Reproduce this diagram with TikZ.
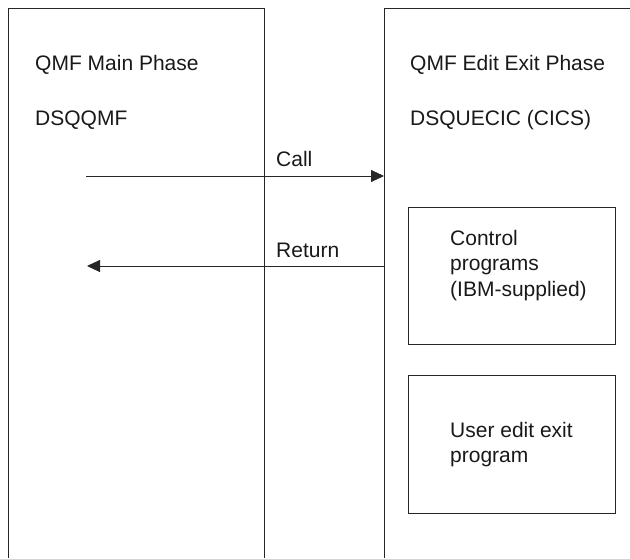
\documentclass[tikz,border=0pt]{standalone}
\usepackage{fontspec}
\setmainfont{Liberation Sans}
\usetikzlibrary{arrows.meta}
\begin{document}
\begin{tikzpicture}[x=1pt,y=-1pt,
  frame/.style={draw=black!85, line width=0.9pt},
  lbl/.style={font=\fontsize{21}{25.5}\selectfont, inner sep=0pt, anchor=base west, align=left, text=black!90},
  flow/.style={draw=black!85, line width=0.9pt, -{Triangle[length=13pt,width=12pt]}},
  progbox/.style={frame, minimum width=207pt, inner sep=0pt, anchor=north west}]
\useasboundingbox (0,0) rectangle (630,558);
% phase panels (open at the bottom)
\coordinate (mainBL) at (8,558);
\coordinate (mainTL) at (8,8);
\coordinate (mainTR) at (264,8);
\coordinate (mainBR) at (264,558);
\coordinate (editBL) at (384,558);
\coordinate (editTL) at (384,8);
\coordinate (editTR) at (630,8);
\draw[frame] (mainBL) -- (mainTL) -- (mainTR) -- (mainBR);
\draw[frame] (editBL) -- (editTL) -- (editTR);
% titles
\node[lbl] (mainT) at (35,70.5) {QMF Main Phase};
\node[lbl] (mainN) at (35,125) {DSQQMF};
\node[lbl] (editT) at (410,70.5) {QMF Edit Exit Phase};
\node[lbl] (editN) at (410,125) {DSQUECIC (CICS)};
% program boxes
\node[progbox, minimum height=137pt] (ctrl) at (408,207) {};
\node[progbox, minimum height=138pt] (user) at (408,375) {};
\node[lbl] (ctrlT) at (450,296) {Control\\programs\\(IBM-supplied)};
\node[lbl] (userT) at (450,462.5) {User edit exit\\program};
% call / return
\coordinate (callL) at (86,176);
\coordinate (callR) at (editTL |- callL);
\coordinate (retR) at (384,266);
\coordinate (retL) at (87,266);
\draw[flow] (callL) -- (callR);
\draw[flow] (retR) -- (retL);
\node[lbl] (callT) at (276,166.5) {Call};
\node[lbl] (retT) at (276,257.5) {Return};
\end{tikzpicture}
\end{document}
